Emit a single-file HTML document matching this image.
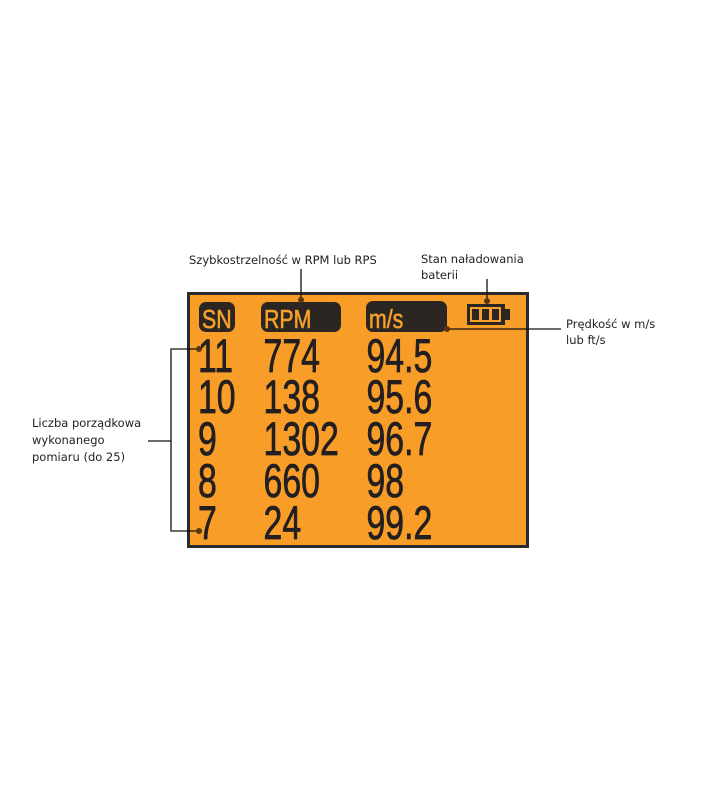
<!DOCTYPE html>
<html><head><meta charset="utf-8"><style>
html,body{margin:0;padding:0;background:#fff;}
svg{display:block;}
.l{font-family:"DejaVu Sans","Liberation Sans",sans-serif;font-size:11.5px;fill:#222;}
.d{font-family:"Liberation Sans",sans-serif;font-size:47px;fill:#231f20;stroke:#231f20;stroke-width:0.8;}
.h{font-family:"Liberation Sans",sans-serif;font-size:26px;fill:#f7a02b;stroke:#f7a02b;stroke-width:0.6;}
</style></head><body>
<svg width="728" height="800" viewBox="0 0 728 800" xmlns="http://www.w3.org/2000/svg">
<rect x="188.5" y="293.5" width="339" height="253" fill="#f89d28" stroke="#2a2a2a" stroke-width="3"/>
<rect x="199" y="302" width="36" height="30" rx="7" fill="#2b2622"/>
<rect x="261" y="302" width="80" height="30" rx="7" fill="#2b2622"/>
<rect x="366" y="301" width="81" height="31" rx="7" fill="#2b2622"/>
<g transform="translate(202,328) scale(0.82,1)"><text class="h" x="0" y="0">SN</text></g>
<g transform="translate(264,328) scale(0.82,1)"><text class="h" x="0" y="0">RPM</text></g>
<g transform="translate(369,328) scale(0.82,1)"><text class="h" x="0" y="0">m/s</text></g>
<rect x="467" y="304" width="38" height="21" fill="#2b2622"/>
<rect x="505" y="309" width="5" height="11" fill="#2b2622"/>
<rect x="471" y="308" width="9" height="13" fill="none" stroke="#f7a02b" stroke-width="2"/>
<rect x="481" y="308" width="9" height="13" fill="none" stroke="#f7a02b" stroke-width="2"/>
<rect x="491" y="308" width="9" height="13" fill="none" stroke="#f7a02b" stroke-width="2"/>
<g transform="scale(0.72,1)">
<text class="d" x="275" y="372">11</text><text class="d" x="366" y="372">774</text><text class="d" x="509" y="372">94.5</text>
<text class="d" x="275" y="413">10</text><text class="d" x="366" y="413">138</text><text class="d" x="509" y="413">95.6</text>
<text class="d" x="275" y="455">9</text><text class="d" x="366" y="455">1302</text><text class="d" x="509" y="455">96.7</text>
<text class="d" x="275" y="497">8</text><text class="d" x="366" y="497">660</text><text class="d" x="509" y="497">98</text>
<text class="d" x="275" y="539">7</text><text class="d" x="366" y="539">24</text><text class="d" x="509" y="539">99.2</text>
</g>
<g stroke="#111" stroke-width="1.3" fill="none">
<line x1="301" y1="269" x2="301" y2="300"/>
<line x1="487" y1="279" x2="487" y2="301"/>
<line x1="447" y1="329" x2="561" y2="329"/>
<polyline points="199,349 171,349 171,531 199,531"/>
<line x1="148" y1="441" x2="171" y2="441"/>
</g>
<g fill="#5a3510">
<circle cx="301" cy="300" r="3"/><circle cx="487" cy="301" r="3"/><circle cx="447" cy="329" r="3"/>
<circle cx="199" cy="349" r="3"/><circle cx="199" cy="531" r="3"/>
</g>
<text class="l" x="189" y="264">Szybkostrzelność w RPM lub RPS</text>
<text class="l" x="421" y="263">Stan naładowania</text>
<text class="l" x="421" y="279">baterii</text>
<text class="l" x="566" y="328">Prędkość w m/s</text>
<text class="l" x="566" y="344">lub ft/s</text>
<text class="l" x="32" y="427">Liczba porządkowa</text>
<text class="l" x="32" y="444">wykonanego</text>
<text class="l" x="32" y="461">pomiaru (do 25)</text>
</svg>
</body></html>
